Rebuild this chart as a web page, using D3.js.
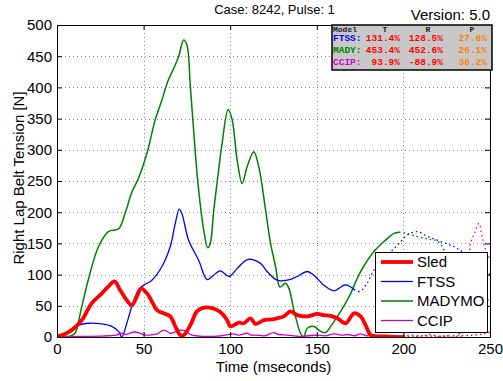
<!DOCTYPE html>
<html>
<head>
<meta charset="utf-8">
<script src="https://cdn.jsdelivr.net/npm/d3@7"></script>
<style>
  html, body { margin: 0; padding: 0; background: #fff; }
  svg { display: block; font-family: "Liberation Sans", Arial, sans-serif; }
</style>
</head>
<body>
<svg id="chart" width="503" height="381"></svg>
<script>
// Tick values
const xTicks = [0, 50, 100, 150, 200, 250];
const yTicks = [0, 50, 100, 150, 200, 250, 300, 350, 400, 450, 500];

// Sled (measured) belt tension, time in ms, force in N
const sledT = [0, 4.6, 8.5, 14.3, 20, 25.9, 29.7, 33.2, 36.5, 40.3, 43.2, 46.1, 48.6, 51.9, 54.8, 57.7, 61.5, 65.4, 68.3, 71.2, 73.1, 77, 80.8, 84.7, 90, 94.3, 98.2, 100.1, 104.9, 107.8, 111.7, 114.6, 119.4, 123, 127.1, 131, 134.8, 138.7, 144.5, 150.3, 154, 158, 161.9, 166.7, 171.5, 175.3, 178.2, 181.1, 185, 190, 195, 200];
const sledV = [1, 5, 11, 27, 54, 70, 81, 89, 75, 59, 51, 65, 78, 70, 57, 43, 38, 33, 17, 3, 3, 19, 41, 47, 46, 40, 27, 17, 23, 22, 30, 21, 27, 28, 30, 33, 41, 35, 33, 37, 35, 34, 30, 22, 38, 33, 19, 3, 1, 1, 0, 0];
const sledTailT = [200, 210, 220, 230, 240, 246, 249, 250];
const sledTailV = [0, 2, 1, 2, 3, 5, 8, 6];

// FTSS model
const ftssT = [0, 4.6, 10.4, 18, 25.9, 31.6, 35.5, 37.4, 40.3, 43.2, 47, 50, 54.8, 60.6, 65.4, 68.3, 70.6, 72.1, 76, 81.8, 86.6, 90, 94.3, 99.5, 104, 109.8, 113, 117.5, 121.3, 127.1, 132.9, 138.7, 144.5, 148.3, 154.1, 159.9, 165.7, 167.6, 171.5];
const ftssV = [0, 3, 17, 22, 21, 17, 9, 0, 22, 49, 75, 83, 91, 113, 145, 182, 205, 198, 155, 123, 92, 98, 106, 97, 110, 124, 124, 118, 105, 91, 91, 97, 105, 99, 83, 74, 83, 83, 76];
const ftssTailT = [171.5, 175, 179, 183, 189, 193.7, 198.5, 202, 208, 214, 221.6, 227.4, 231, 240, 250];
const ftssTailV = [76, 73, 86, 107, 129, 139, 153, 163, 169, 161, 153, 147, 142, 125, 100];

// MADYMO model
const madyT = [0, 5, 8, 10.4, 14, 18, 24, 29.7, 35.5, 39.4, 43.2, 47, 51.9, 56.7, 60.6, 64, 67.3, 70.2, 73.1, 75, 77, 79.9, 81.8, 84.5, 87, 88.5, 90.5, 93, 95.3, 98.8, 101, 104, 106.9, 109.8, 113.6, 116.5, 120.4, 123.3, 126.2, 128.7, 131.9, 133.9, 136.8, 140.6, 142.4, 144.5, 148.3, 152.2, 155, 158, 161.9, 165.7, 169.6, 173.5, 177, 183, 188.8, 194.6, 197.5];
const madyV = [0, 0, 2, 6, 45, 91, 145, 169, 173, 199, 232, 254, 294, 348, 380, 410, 430, 449, 476, 468, 401, 294, 235, 175, 143, 150, 203, 260, 310, 364, 350, 284, 246, 273, 297, 273, 204, 150, 113, 80, 86, 78, 43, 6, 0, 14, 17, 9, 7, 17, 33, 50, 70, 95, 113, 137, 153, 166, 168];
const madyTailT = [197.5, 202, 208, 214, 220, 226, 230, 233, 236, 240, 250];
const madyTailV = [168, 166, 161, 157, 153, 120, 50, 0, 25, 50, 60];

// CCIP model
const ccipT = [0, 11, 20, 30, 34.5, 37, 40, 43, 45, 48, 51, 56, 58, 61.5, 63, 65.4, 68, 71, 74, 77, 80, 83.7, 90, 95, 102, 105, 109.8, 112, 115, 120, 125, 128, 133, 140, 145, 150, 155, 160, 165, 168, 172, 175, 179, 183, 187, 191, 197];
const ccipV = [0, 1, 1, 2, 3, 6, 4, 7, 8, 6, 3, 4, 5, 11, 10, 6, 8, 11, 10, 4, 2, 1, 1, 2, 5, 3, 6, 3, 3, 2, 7, 4, 3, 1, 2, 3, 2, 5, 3, 4, 2, 5, 2, 3, 2, 2, 1];
const ccipTailT = [197, 205, 210, 215, 220, 225, 230, 235, 238.8, 241, 243.6, 245.5, 247.5, 250];
const ccipTailV = [1, 3, 0, 4, 1, 2, 0, 20, 150, 166, 182, 160, 139, 125];

// Error metrics table
const tableHeader = ["Model", "T", "R", "P"];
const tableModels = ["FTSS:", "MADY:", "CCIP:"];
const tableT = ["131.4%", "453.4%", "93.9%"];
const tableR = ["128.5%", "452.6%", "-88.9%"];
const tableP = ["27.6%", "26.1%", "30.2%"];

const legendNames = ["Sled", "FTSS", "MADYMO", "CCIP"];

const series = [
  { name: "Sled",   color: "#ff0000", width: 3.8, t: sledT, v: sledV, tt: sledTailT, tv: sledTailV },
  { name: "FTSS",   color: "#0000ff", width: 1.3, t: ftssT, v: ftssV, tt: ftssTailT, tv: ftssTailV },
  { name: "MADYMO", color: "#008000", width: 1.5, t: madyT, v: madyV, tt: madyTailT, tv: madyTailV },
  { name: "CCIP",   color: "#cc00cc", width: 1.3, t: ccipT, v: ccipV, tt: ccipTailT, tv: ccipTailV }
];

const svg = d3.select("#chart");
const pL = 57, pR = 490, pT = 25, pB = 337;

const x = d3.scaleLinear().domain([0, 250]).range([pL, pR]);
const y = d3.scaleLinear().domain([0, 500]).range([pB, pT]);

svg.append("defs").append("clipPath").attr("id", "plotclip")
  .append("rect").attr("x", pL).attr("y", pT)
  .attr("width", pR - pL).attr("height", pB - pT);

// Dotted grid
const grid = svg.append("g").attr("stroke", "#8c8c8c").attr("stroke-width", 1)
  .attr("stroke-dasharray", "1,3");
xTicks.slice(1, -1).forEach(t => {
  grid.append("line").attr("x1", Math.round(x(t)) + 0.5).attr("x2", Math.round(x(t)) + 0.5)
    .attr("y1", pT).attr("y2", pB);
});
yTicks.slice(1, -1).forEach(v => {
  grid.append("line").attr("y1", Math.round(y(v)) + 0.5).attr("y2", Math.round(y(v)) + 0.5)
    .attr("x1", pL).attr("x2", pR);
});

// Data lines
const line = d3.line().x(d => x(d[0])).y(d => y(d[1])).curve(d3.curveCatmullRom.alpha(0.5));
const plot = svg.append("g").attr("clip-path", "url(#plotclip)");

// dotted continuations drawn first, solid traces on top
series.slice().reverse().forEach(s => {
  plot.append("path")
    .attr("d", line(d3.zip(s.tt, s.tv)))
    .attr("fill", "none").attr("stroke", s.color)
    .attr("stroke-width", Math.min(s.width, 1.5))
    .attr("stroke-dasharray", "1.5,3");
});
const order = [2, 1, 3, 0];
order.forEach(i => {
  const s = series[i];
  plot.append("path")
    .attr("d", line(d3.zip(s.t, s.v)))
    .attr("fill", "none").attr("stroke", s.color)
    .attr("stroke-width", s.width)
    .attr("stroke-linejoin", "round").attr("stroke-linecap", "round");
});

// Axes with inward ticks on all sides
function styleAxis(g) {
  g.selectAll("path").attr("stroke", "#000").attr("stroke-width", 1);
  g.selectAll("line").attr("stroke", "#000").attr("stroke-width", 1);
  g.selectAll("text").attr("fill", "#000").style("font-size", "15px")
    .style("font-family", "'Liberation Sans', Arial, sans-serif");
}
svg.append("g").attr("transform", `translate(0,${pB})`)
  .call(d3.axisBottom(x).tickValues(xTicks).tickSize(-5).tickSizeOuter(0).tickPadding(6))
  .call(styleAxis);
svg.append("g").attr("transform", `translate(${pL},0)`)
  .call(d3.axisLeft(y).tickValues(yTicks).tickSize(-5).tickSizeOuter(0).tickPadding(5))
  .call(styleAxis);
svg.append("g").attr("transform", `translate(0,${pT})`)
  .call(d3.axisTop(x).tickValues(xTicks).tickSize(-5).tickSizeOuter(0).tickFormat(""))
  .call(styleAxis);
svg.append("g").attr("transform", `translate(${pR},0)`)
  .call(d3.axisRight(y).tickValues(yTicks).tickSize(-5).tickSizeOuter(0).tickFormat(""))
  .call(styleAxis);

// Titles and axis labels
svg.append("text").attr("x", (pL + pR) / 2 + 1).attr("y", 13.5)
  .attr("text-anchor", "middle").style("font-size", "13px").text("Case: 8242, Pulse: 1");
svg.append("text").attr("x", 490).attr("y", 20)
  .attr("text-anchor", "end").style("font-size", "15px").text("Version: 5.0");
svg.append("text").attr("x", (pL + pR) / 2).attr("y", 372)
  .attr("text-anchor", "middle").style("font-size", "15px").text("Time (mseconds)");
svg.append("text").attr("transform", "translate(24,178) rotate(-90)")
  .attr("text-anchor", "middle").style("font-size", "15px").text("Right Lap Belt Tension [N]");

// Metrics table
const tbl = svg.append("g");
tbl.append("clipPath").attr("id", "tblclip")
  .append("rect").attr("x", 332).attr("y", 25).attr("width", 160).attr("height", 45);
tbl.append("rect").attr("x", 332).attr("y", 25).attr("width", 160).attr("height", 45)
  .attr("fill", "#c8c8c8").attr("stroke", "none");
const tt = tbl.append("g").attr("clip-path", "url(#tblclip)")
  .style("font-family", "'Liberation Mono', 'DejaVu Sans Mono', monospace")
  .style("font-weight", "bold");
const hdrX = [333, 385, 428, 472];
tableHeader.forEach((h, i) => {
  tt.append("text").attr("x", hdrX[i]).attr("y", 31.5).style("font-size", "8px")
    .attr("text-anchor", i === 0 ? "start" : "middle").attr("fill", "#222").text(h);
});
const nameColors = ["#0000ff", "#008000", "#cc00cc"];
tableModels.forEach((m, i) => {
  const by = 41 + i * 12;
  const row = tt.append("g").style("font-size", "9.5px");
  row.append("text").attr("x", 333).attr("y", by).attr("fill", nameColors[i]).text(m);
  row.append("text").attr("x", 400).attr("y", by).attr("text-anchor", "end").attr("fill", "#ff0000").text(tableT[i]);
  row.append("text").attr("x", 443).attr("y", by).attr("text-anchor", "end").attr("fill", "#ff0000").text(tableR[i]);
  row.append("text").attr("x", 487).attr("y", by).attr("text-anchor", "end").attr("fill", "#ff8000").text(tableP[i]);
});
tbl.append("rect").attr("x", 332).attr("y", 25).attr("width", 160).attr("height", 45)
  .attr("fill", "none").attr("stroke", "#000").attr("stroke-width", 1.5);

// Legend
const lg = svg.append("g");
lg.append("rect").attr("x", 375.5).attr("y", 252.5).attr("width", 112).attr("height", 80)
  .attr("fill", "#fff").attr("stroke", "#000").attr("stroke-width", 1);
legendNames.forEach((n, i) => {
  const s = series[i];
  const cy = 262 + i * 19.5;
  lg.append("line").attr("x1", 381).attr("x2", 413).attr("y1", cy).attr("y2", cy)
    .attr("stroke", s.color).attr("stroke-width", s.width);
  lg.append("text").attr("x", 417).attr("y", cy).attr("dy", "0.36em")
    .style("font-size", "15px").text(n);
});
</script>
</body>
</html>
